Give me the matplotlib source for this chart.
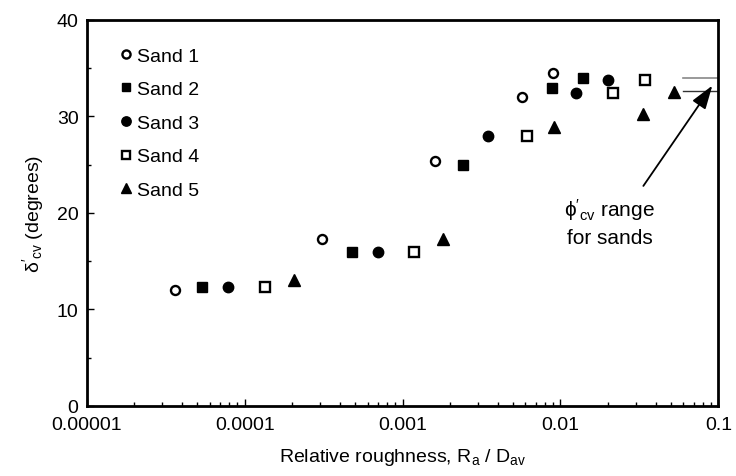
import matplotlib
matplotlib.use("Agg")
import matplotlib.pyplot as plt

plt.rcParams['font.family'] = ['Liberation Sans', 'DejaVu Sans']
plt.rcParams['mathtext.fontset'] = 'custom'
plt.rcParams['mathtext.rm'] = 'Liberation Sans'
plt.rcParams['mathtext.it'] = 'Liberation Sans:italic'

# relative roughness Ra/Dav and delta'cv (degrees) per sand
sand1_x = [3.6e-5, 3.1e-4, 1.6e-3, 5.7e-3, 9.0e-3]
sand1_y = [12.0, 17.3, 25.4, 32.0, 34.5]
sand2_x = [5.4e-5, 4.8e-4, 2.4e-3, 8.9e-3, 1.39e-2]
sand2_y = [12.3, 16.0, 25.0, 33.0, 34.0]
sand3_x = [7.8e-5, 7.0e-4, 3.5e-3, 1.26e-2, 2.0e-2]
sand3_y = [12.3, 16.0, 28.0, 32.4, 33.8]
sand4_x = [1.34e-4, 1.18e-3, 6.1e-3, 2.16e-2, 3.44e-2]
sand4_y = [12.3, 16.0, 28.0, 32.4, 33.8]
sand5_x = [2.05e-4, 1.8e-3, 9.1e-3, 3.35e-2, 5.2e-2]
sand5_y = [13.0, 17.3, 28.9, 30.3, 32.5]

phi_cv_range = [34.0, 32.6]

fs = 14

fig = plt.figure(figsize=(7.36, 4.77), dpi=100)
ax = fig.add_axes([0.118, 0.147, 0.858, 0.809])

ms = 7
ax.plot(sand1_x, sand1_y, 'o', ms=6.5, mfc='white', mec='black', mew=1.7, ls='none', label='Sand 1')
ax.plot(sand2_x, sand2_y, 's', ms=ms, color='black', ls='none', label='Sand 2')
ax.plot(sand3_x, sand3_y, 'o', ms=ms + 0.5, color='black', ls='none', label='Sand 3')
ax.plot(sand4_x, sand4_y, 's', ms=ms, mfc='white', mec='black', mew=1.7, ls='none', label='Sand 4')
ax.plot(sand5_x, sand5_y, '^', ms=ms + 1, color='black', ls='none', label='Sand 5')

# phi'cv range lines at the right edge
ax.plot([0.06, 0.1], [phi_cv_range[0]] * 2, color='#888888', lw=1.2)
ax.plot([0.06, 0.1], [phi_cv_range[1]] * 2, color='#333333', lw=1.0)

ax.annotate('', xy=(0.0916, 33.2), xytext=(0.0335, 22.8),
            arrowprops=dict(arrowstyle='-|>,head_length=0.9,head_width=0.3',
                            color='black', lw=1.3,
                            mutation_scale=16, shrinkA=0, shrinkB=0))
ax.text(0.0205, 19.1, "$\\mathregular{\\phi'_{cv}}$ range\nfor sands",
        ha='center', va='center', fontsize=15, linespacing=1.45)

ax.set_xscale('log')
ax.set_xlim(1e-5, 0.1)
ax.set_ylim(0, 40)
ax.set_xticks([1e-5, 1e-4, 1e-3, 1e-2, 1e-1])
ax.set_xticklabels(['0.00001', '0.0001', '0.001', '0.01', '0.1'])
ax.set_yticks([0, 10, 20, 30, 40])
ax.set_yticks([5, 15, 25, 35], minor=True)

ax.tick_params(axis='both', which='both', direction='in', labelsize=fs,
               top=False, right=False)
ax.tick_params(which='major', length=5, width=1)
ax.tick_params(which='minor', length=3, width=1)
ax.tick_params(axis='x', pad=7)
ax.tick_params(axis='y', pad=6)

for s in ax.spines.values():
    s.set_linewidth(2)

ax.set_xlabel("Relative roughness, $\\mathregular{R_a}$ / $\\mathregular{D_{av}}$", fontsize=fs, labelpad=10)
ax.set_ylabel("$\\mathregular{\\delta'_{cv}}$ (degrees)", fontsize=fs, labelpad=8)

ax.legend(loc='upper left', frameon=False, fontsize=fs, handletextpad=0.05,
          labelspacing=0.82, handlelength=1.0, borderaxespad=0.3,
          bbox_to_anchor=(0.025, 0.965), markerscale=0.9)

fig.savefig('out.png', dpi=100)
